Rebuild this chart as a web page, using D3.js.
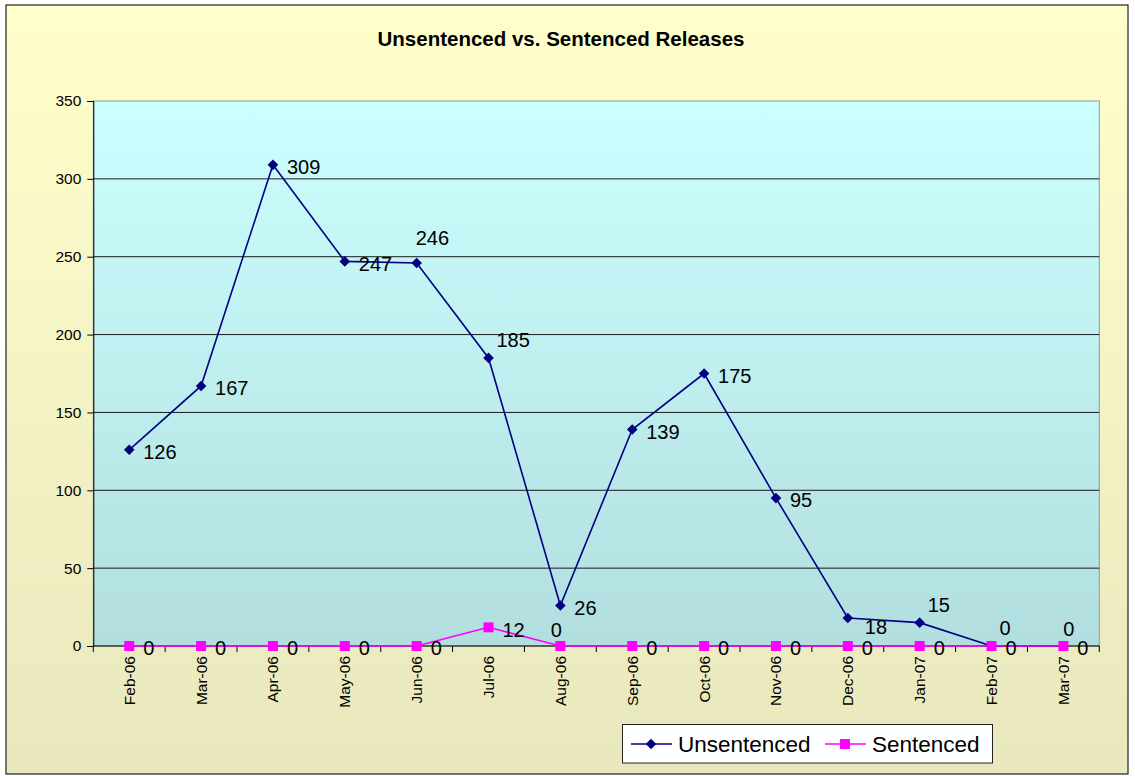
<!DOCTYPE html>
<html><head><meta charset="utf-8">
<script src="https://cdn.jsdelivr.net/npm/d3@7"></script>
<style>body{margin:0;background:#fff}svg{display:block}text{font-family:Arial,"Liberation Sans",sans-serif}</style>
</head><body>
<svg id="c" width="1135" height="776"></svg>
<script>
const categories = ["Feb-06","Mar-06","Apr-06","May-06","Jun-06","Jul-06","Aug-06","Sep-06","Oct-06","Nov-06","Dec-06","Jan-07","Feb-07","Mar-07"];
const unsentenced = [126,167,309,247,246,185,26,139,175,95,18,15,0,0];
const sentenced = [0,0,0,0,0,12,0,0,0,0,0,0,0,0];
const yTicks = [0,50,100,150,200,250,300,350];
const unsentencedLabelPlace = ["r","r","r","r","al","ar","r","r","r","r","br","ar","ar","al2"];
const sentencedLabelPlace = ["r","r","r","r","r","r","a","r","r","r","r","r","r","r"];

const svg = d3.select("#c");
const W = 1135, H = 776;
const L = 93.3, R = 1099.3, T = 101, B = 646;

const defs = svg.append("defs");
const g1 = defs.append("linearGradient").attr("id","outerG").attr("x1",0).attr("y1",0).attr("x2",0).attr("y2",1);
g1.append("stop").attr("offset","0%").attr("stop-color","#FFFFCC");
g1.append("stop").attr("offset","100%").attr("stop-color","#E9E7BD");
const g2 = defs.append("linearGradient").attr("id","plotG").attr("x1",0).attr("y1",0).attr("x2",0).attr("y2",1);
g2.append("stop").attr("offset","0%").attr("stop-color","#CCFFFF");
g2.append("stop").attr("offset","100%").attr("stop-color","#B2DEDF");

svg.append("rect").attr("x",0).attr("y",0).attr("width",W).attr("height",H).attr("fill","#fff");
svg.append("rect").attr("x",6).attr("y",5).attr("width",1122).attr("height",769)
  .attr("fill","url(#outerG)").attr("stroke","#222").attr("stroke-width",1.2);

svg.append("text").attr("x",561).attr("y",46).attr("text-anchor","middle")
  .attr("font-weight","bold").attr("font-size","20.5px").attr("fill","#000")
  .text("Unsentenced vs. Sentenced Releases");

const x = d3.scaleBand().domain(categories).range([L,R]);
const y = d3.scaleLinear().domain([0,350]).range([B,T]);

svg.append("rect").attr("x",L).attr("y",T).attr("width",R-L).attr("height",B-T)
  .attr("fill","url(#plotG)").attr("stroke","#8a9a9a").attr("stroke-width",1);

// gridlines
svg.append("g").selectAll("line").data(yTicks.filter(d=>d>0 && d<350)).join("line")
  .attr("x1",L).attr("x2",R).attr("y1",d=>y(d)).attr("y2",d=>y(d))
  .attr("stroke","#1a1a1a").attr("stroke-width",1);

// y axis
const yAxis = d3.axisLeft(y).tickValues(yTicks).tickSize(6).tickPadding(6).tickFormat(d3.format("d"));
const ya = svg.append("g").attr("transform",`translate(${L},0)`).call(yAxis);
ya.select(".domain").attr("stroke","#000");
ya.selectAll(".tick line").attr("stroke","#000");
ya.selectAll("text").attr("font-size","15.5px").attr("fill","#000").attr("font-family","Arial, 'Liberation Sans', sans-serif");

// x axis
const xa = svg.append("g").attr("transform",`translate(0,${B})`);
xa.append("line").attr("x1",L).attr("x2",R).attr("y1",0).attr("y2",0).attr("stroke","#000");
const bounds = d3.range(categories.length+1).map(i=>L + i*x.bandwidth());
xa.selectAll("line.tk").data(bounds).join("line").attr("class","tk")
  .attr("x1",d=>d).attr("x2",d=>d).attr("y1",0).attr("y2",6).attr("stroke","#000");
xa.selectAll("text").data(categories).join("text")
  .attr("transform",d=>`translate(${x(d)+x.bandwidth()/2},10) rotate(-90)`)
  .attr("text-anchor","end").attr("dy","0.35em")
  .attr("font-size","15.5px").attr("fill","#000").text(d=>d);

const cx = d=>x(d)+x.bandwidth()/2;
const line = d3.line().x(d=>cx(d.c)).y(d=>y(d.v));
const uData = categories.map((c,i)=>({c,v:unsentenced[i],p:unsentencedLabelPlace[i]}));
const sData = categories.map((c,i)=>({c,v:sentenced[i],p:sentencedLabelPlace[i]}));

// Unsentenced
svg.append("path").datum(uData).attr("d",line).attr("fill","none").attr("stroke","#000080").attr("stroke-width",1.6);
svg.append("g").selectAll("path").data(uData).join("path")
  .attr("d",d3.symbol().type(d3.symbolDiamond2).size(72))
  .attr("transform",d=>`translate(${cx(d.c)},${y(d.v)})`)
  .attr("fill","#000080");
// Sentenced
svg.append("path").datum(sData).attr("d",line).attr("fill","none").attr("stroke","#FF00FF").attr("stroke-width",1.6);
svg.append("g").selectAll("rect").data(sData).join("rect")
  .attr("x",d=>cx(d.c)-5).attr("y",d=>y(d.v)-5).attr("width",10).attr("height",10)
  .attr("fill","#FF00FF");

// labels
const place = {
  r:  {dx:14, dy:2, anchor:"start"},
  a:  {dx:-4, dy:-16, anchor:"middle"},
  ar: {dx:8, dy:-18, anchor:"start"},
  al: {dx:-1, dy:-25, anchor:"start"},
  al2:{dx:0, dy:-17, anchor:"start"},
  br: {dx:17, dy:9, anchor:"start"}
};
function labels(data){
  svg.append("g").selectAll("text").data(data).join("text")
    .attr("x",d=>cx(d.c)+place[d.p].dx)
    .attr("y",d=>y(d.v)+place[d.p].dy)
    .attr("dy","0.36em")
    .attr("text-anchor",d=>place[d.p].anchor)
    .attr("font-size","20px").attr("fill","#000")
    .text(d=>d.v);
}
labels(uData);
labels(sData);

// legend
const lg = svg.append("g");
lg.append("rect").attr("x",622.5).attr("y",724.5).attr("width",370).attr("height",38.5)
  .attr("fill","#fff").attr("stroke","#222").attr("stroke-width",1);
const items = [
  {name:"Unsentenced", color:"#000080", sym:"diamond", x0:631},
  {name:"Sentenced", color:"#FF00FF", sym:"square", x0:825}
];
const ly = 744;
items.forEach(it=>{
  lg.append("line").attr("x1",it.x0).attr("x2",it.x0+41).attr("y1",ly).attr("y2",ly).attr("stroke",it.color).attr("stroke-width",1.6);
  if(it.sym==="diamond"){
    lg.append("path").attr("d",d3.symbol().type(d3.symbolDiamond2).size(72)).attr("transform",`translate(${it.x0+20},${ly})`).attr("fill",it.color);
  } else {
    lg.append("rect").attr("x",it.x0+20-5).attr("y",ly-5).attr("width",10).attr("height",10).attr("fill",it.color);
  }
  lg.append("text").attr("x",it.x0+47).attr("y",ly).attr("dy","0.36em").attr("font-size","22.5px").attr("fill","#000").text(it.name);
});
</script>
</body></html>
